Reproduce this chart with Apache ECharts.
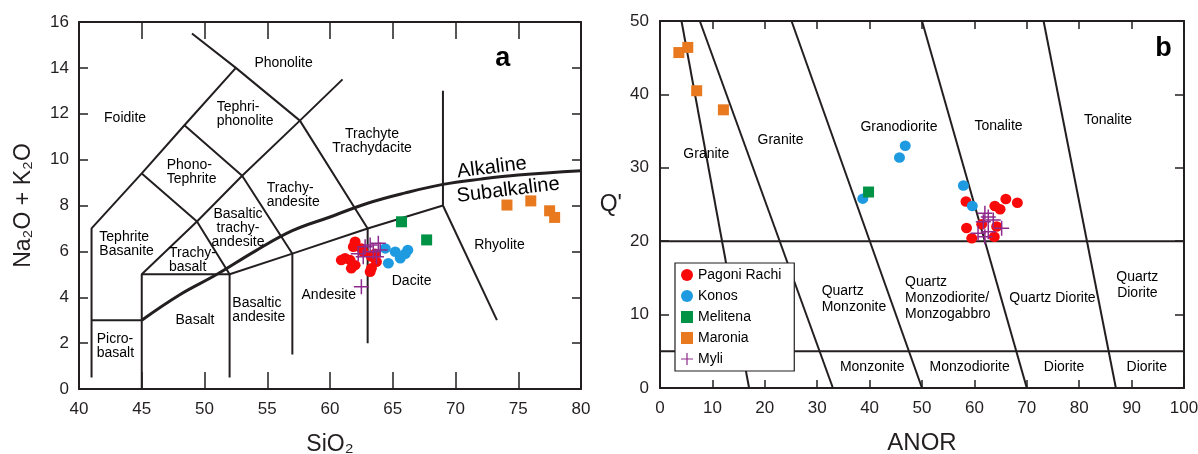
<!DOCTYPE html>
<html>
<head>
<meta charset="utf-8">
<script src="https://cdn.jsdelivr.net/npm/echarts@6/dist/echarts.min.js"></script>
<style>
  html, body { margin: 0; padding: 0; background: #fff; }
  #chart { width: 1198px; height: 454px; }
</style>
</head>
<body>
<div id="chart"></div>
<script>
// ---- panel a : TAS (SiO2 vs Na2O + K2O) ----
const tasPagoni = [[62.0,6.42],[61.86,6.2],[62.5,6.13],[61.2,5.7],[61.6,5.62],[60.9,5.62],[62.0,5.4],[61.7,5.26],[63.3,5.77],[63.6,5.9],[63.7,5.55],[63.3,5.26],[63.2,5.11],[62.65,5.98]];
const tasKonos = [[64.4,6.13],[65.2,5.98],[64.65,5.48],[65.6,5.7],[66.2,6.06],[66.0,5.9]];
const tasMelitena = [[65.7,7.29],[67.7,6.5]];
const tasMaronia = [[74.1,8.02],[76.0,8.2],[77.5,7.77],[77.9,7.48]];
const tasMyli = [[62.8,6.2],[63.2,6.28],[63.85,6.35],[64.0,6.06],[62.25,5.9],[62.65,5.77],[63.45,5.98],[63.7,5.77],[62.5,4.46]];

// field boundaries (polylines)
const tasBounds = [
  [[49,15.5],[52.5,14],[57.6,11.7],[63,7],[63,2]],
  [[41,0.5],[41,7],[45,9.4],[48.4,11.5],[52.5,14]],
  [[41,3],[45,3]],
  [[45,0],[45,5],[52,5],[57,5.9],[63,7],[69,8],[69,13]],
  [[45,5],[49.4,7.3],[53,9.3],[57.6,11.7],[61,13.5]],
  [[45,9.4],[49.4,7.3],[52,5],[52,0.5]],
  [[48.4,11.5],[53,9.3],[57,5.9],[57,1.5]],
  [[69,8],[73.3,3]]
];
// Irvine & Baragar alkaline / subalkaline divide
const alkCurve = [[45,3],[48,4.1],[51,5.0],[54,6.0],[57,6.9],[60,7.5],[63,8.1],[66,8.55],[69,8.92],[72,9.15],[75,9.33],[80,9.52]];

// field names: centred ones and left-aligned ones (x = left edge)
const tasNamesCenter = [
  ['Phonolite',56.3,14.2],['Foidite',43.67,11.8],['Trachyte\nTrachydacite',63.35,10.8],
  ['Basaltic\ntrachy-\nandesite',52.67,7.03],['Basalt',49.24,3.0],['Andesite',59.9,4.1],
  ['Dacite',66.5,4.71],['Rhyolite',73.5,6.28]
];
const tasNamesLeft = [
  ['Tephri-\nphonolite',50.97,11.97],['Phono-\nTephrite',46.99,9.46],['Trachy-\nandesite',54.96,8.46],
  ['Tephrite\nBasanite',41.62,6.33],['Trachy-\nbasalt',47.17,5.6],['Picro-\nbasalt',41.41,1.86],
  ['Basaltic\nandesite',52.22,3.44]
];
const curveNames = [['Alkaline',72.9,9.65],['Subalkaline',74.2,8.67]];

// ---- panel b : Q' vs ANOR ----
const qaPagoni = [[58.4,25.4],[63.9,24.8],[64.9,24.35],[66.0,25.75],[68.2,25.25],[58.5,21.8],[59.5,20.4],[61.4,22.3],[63.8,20.6],[64.25,22.0]];
const qaKonos = [[38.7,25.8],[46.8,33.0],[45.7,31.4],[57.9,27.6],[59.6,24.8]];
const qaMelitena = [[39.8,26.7]];
const qaMaronia = [[3.6,45.7],[5.3,46.4],[7.0,40.5],[12.1,37.9]];
const qaMyli = [[62.0,23.8],[62.65,23.3],[61.7,22.65],[63.6,22.9],[65.2,21.75],[60.7,21.1],[62.0,20.6],[62.65,21.3]];

const qaBounds = [
  [[4.1,50],[17,0]],
  [[7.6,50],[33,0]],
  [[25.1,50],[50,0]],
  [[50,50],[70,0]],
  [[73.2,50],[87,0]],
  [[0,20],[100,20]],
  [[0,5],[100,5]]
];
const qaNamesCenter = [
  ['Granite',8.84,31.8],['Granite',23.0,33.8],['Granodiorite',45.6,35.5],['Tonalite',64.6,35.7],
  ['Tonalite',85.5,36.5],['Quartz Diorite',74.9,12.2],['Quartz\nDiorite',91.1,14.0],
  ['Monzonite',40.5,2.9],['Monzodiorite',59.1,2.9],['Diorite',77.1,2.9],['Diorite',92.9,2.9]
];
const qaNamesLeft = [
  ['Quartz\nMonzonite',30.85,12.17],['Quartz\nMonzodiorite/\nMonzogabbro',46.76,12.2]
];

const groups = ['Pagoni Rachi','Konos','Melitena','Maronia','Myli'];

(function() {
  const chart = echarts.init(document.getElementById('chart'), null, { renderer: 'canvas' });
  const INK = '#231f20';
  const FONT = '"Liberation Sans", Arial, Helvetica, sans-serif';
  const PLUS = 'path://M0,4.5H10V5.5H0Z M4.5,0H5.5V10H4.5Z';

  const look = {
    'Pagoni Rachi': { color: '#f80a0a', symbol: 'circle', size: [11, 10.5], icon: 'circle' },
    'Konos':        { color: '#1e9be0', symbol: 'circle', size: [11, 10.5], icon: 'circle' },
    'Melitena':     { color: '#009245', symbol: 'rect',   size: 11, icon: 'rect' },
    'Maronia':      { color: '#e8791e', symbol: 'rect',   size: 11, icon: 'rect' },
    'Myli':         { color: '#8e2a8c', symbol: PLUS,     size: 15, icon: PLUS }
  };
  const tasData = { 'Pagoni Rachi': tasPagoni, 'Konos': tasKonos, 'Melitena': tasMelitena, 'Maronia': tasMaronia, 'Myli': tasMyli };
  const qaData  = { 'Pagoni Rachi': qaPagoni,  'Konos': qaKonos,  'Melitena': qaMelitena,  'Maronia': qaMaronia,  'Myli': qaMyli };

  const lineSeries = (paths, idx, width, smooth) => paths.map(p => ({
    type: 'line', xAxisIndex: idx, yAxisIndex: idx, data: p, symbol: 'none',
    silent: true, smooth: smooth || false, z: 1,
    lineStyle: { color: INK, width: width }
  }));

  // text labels drawn at data coordinates
  const textSeries = (names, idx, align, lineHeight, extra) => ({
    type: 'scatter', xAxisIndex: idx, yAxisIndex: idx, symbolSize: 0, silent: true, z: 3,
    data: names.map(n => ({ name: n[0], value: [n[1], n[2]] })),
    label: Object.assign({
      show: true, position: 'inside', formatter: '{b}', align: align,
      color: '#000', fontSize: 14, fontFamily: FONT, lineHeight: lineHeight,
      textBorderWidth: 0, opacity: 1
    }, extra || {})
  });

  const pointSeries = [];
  groups.forEach(g => {
    [[tasData[g], 0], [qaData[g], 1]].forEach(([d, idx]) => {
      pointSeries.push({
        type: 'scatter', name: g, xAxisIndex: idx, yAxisIndex: idx, data: d,
        symbol: look[g].symbol, symbolSize: look[g].size, z: 5,
        itemStyle: { color: look[g].color, opacity: 1 }
      });
    });
  });

  const baseAxis = (o) => Object.assign({
    type: 'value',
    axisLine: { show: true, onZero: false, lineStyle: { color: INK, width: 2 } },
    splitLine: { show: false },
    axisLabel: { color: INK, fontSize: 17, fontFamily: FONT },
    nameTextStyle: { color: INK, fontSize: 23, fontFamily: FONT }
  }, o);

  const option = {
    animation: false,
    backgroundColor: '#fff',
    grid: [
      { left: 79, top: 22, width: 502, height: 367, outerBoundsMode: 'none', containLabel: false },
      { left: 660, top: 21, width: 524, height: 367, outerBoundsMode: 'none', containLabel: false }
    ],
    xAxis: [
      baseAxis({ gridIndex: 0, min: 40, max: 80, interval: 5, position: 'bottom',
        axisTick: { inside: true, length: 17, lineStyle: { color: INK, width: 1.5 } },
        axisLabel: { color: INK, fontSize: 17, fontFamily: FONT, margin: 12 },
        name: 'SiO₂', nameLocation: 'middle', nameGap: 44 }),
      baseAxis({ gridIndex: 1, min: 0, max: 100, interval: 10, position: 'bottom',
        axisTick: { inside: true, length: 8, lineStyle: { color: INK, width: 1.5 } },
        axisLabel: { color: INK, fontSize: 17, fontFamily: FONT, margin: 12 },
        name: 'ANOR', nameLocation: 'middle', nameGap: 43,
        nameTextStyle: { color: INK, fontSize: 24, fontFamily: FONT } }),
      baseAxis({ gridIndex: 0, min: 40, max: 80, interval: 5, position: 'top',
        axisTick: { inside: true, length: 17, lineStyle: { color: INK, width: 1.5 } },
        axisLabel: { show: false } }),
      baseAxis({ gridIndex: 1, min: 0, max: 100, interval: 10, position: 'top',
        axisTick: { inside: true, length: 8, lineStyle: { color: INK, width: 1.5 } },
        axisLabel: { show: false } })
    ],
    yAxis: [
      baseAxis({ gridIndex: 0, min: 0, max: 16, interval: 2, position: 'left',
        axisTick: { inside: true, length: 9, lineStyle: { color: INK, width: 1.5 } },
        axisLabel: { color: INK, fontSize: 17, fontFamily: FONT, margin: 10 },
        name: 'Na₂O + K₂O', nameLocation: 'middle', nameGap: 44 }),
      baseAxis({ gridIndex: 1, min: 0, max: 50, interval: 10, position: 'left',
        axisTick: { inside: true, length: 9, lineStyle: { color: INK, width: 1.5 } },
        axisLabel: { color: INK, fontSize: 17, fontFamily: FONT, margin: 11 },
        name: "Q'", nameLocation: 'middle', nameRotate: 0, nameGap: 38 }),
      baseAxis({ gridIndex: 0, min: 0, max: 16, interval: 2, position: 'right',
        axisTick: { inside: true, length: 9, lineStyle: { color: INK, width: 1.5 } },
        axisLabel: { show: false } }),
      baseAxis({ gridIndex: 1, min: 0, max: 50, interval: 10, position: 'right',
        axisTick: { inside: true, length: 9, lineStyle: { color: INK, width: 1.5 } },
        axisLabel: { show: false } })
    ],
    legend: {
      orient: 'vertical', left: 675, top: 263,
      backgroundColor: '#fff', borderColor: INK, borderWidth: 1.2,
      padding: [5, 13, 5, 6], itemGap: 7, itemWidth: 12, itemHeight: 12,
      selectedMode: false,
      textStyle: { color: '#000', fontSize: 14, fontFamily: FONT },
      data: groups.map(g => ({ name: g, icon: look[g].icon, itemStyle: { color: look[g].color } }))
    },
    series: [].concat(
      lineSeries(tasBounds, 0, 2),
      lineSeries([alkCurve], 0, 3, 0.4),
      lineSeries(qaBounds, 1, 2),
      [
        textSeries(tasNamesCenter, 0, 'center', 14),
        textSeries(tasNamesLeft, 0, 'left', 14),
        textSeries(curveNames, 0, 'center', 20, { fontSize: 20, rotate: 7 }),
        textSeries(qaNamesCenter, 1, 'center', 16),
        textSeries(qaNamesLeft, 1, 'left', 16),
        textSeries([['a', 73.76, 14.4]], 0, 'center', 26, { fontSize: 27, fontWeight: 'bold' }),
        textSeries([['b', 96.1, 46.3]], 1, 'center', 26, { fontSize: 27, fontWeight: 'bold' })
      ],
      pointSeries
    )
  };

  chart.setOption(option);
  window.addEventListener('resize', () => chart.resize());
})();
</script>
</body>
</html>
